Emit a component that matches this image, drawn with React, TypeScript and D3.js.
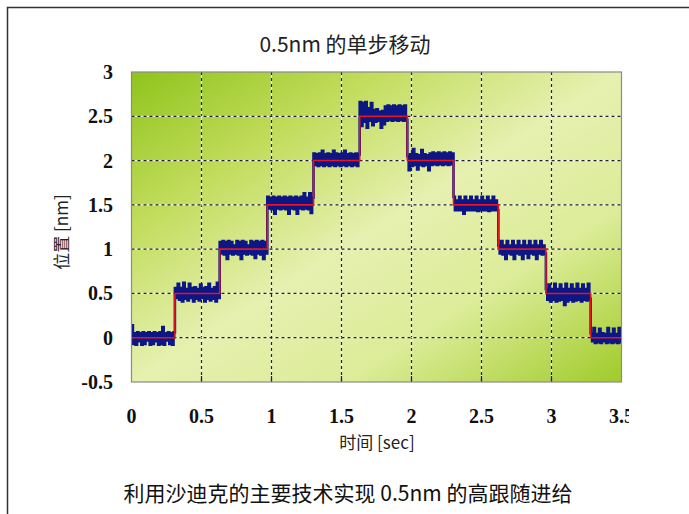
import React from "react";
import * as d3 from "d3";

// ---- data ----
const stepTimes = [0, 0.31, 0.63, 0.97, 1.3, 1.63, 1.97, 2.3, 2.62, 2.96, 3.28, 3.5];
const stepLevels = [0, 0.5, 1.0, 1.5, 2.0, 2.5, 2.0, 1.5, 1.0, 0.5, 0];
// measured noise around each level, in 0.01 nm
const noise0 = [14, -7, 5, -8, 6, -4, 5, -8, 6, -7, 5, -3, 6, -8, 5, -7, 6, -4, 5, -8, 6, -7, 12, -8, 5, -3, 6, -7, 5, -8, 6];
const noise1 = [6, -5, 11, -7, 6, -9, 12, -6, 5, -8, 11, -5, 6, -9, 7, -6, 5, -8, 10, -5, 6, -9, 7, -6, 11, -8, 5, -6, 7, -9, 12, -5];
const noise2 = [8, -5, 9, -6, 8, -11, 9, -5, 8, -6, 4, -5, 9, -6, 8, -11, 9, -5, 8, -6, 4, -5, 9, -6, 8, -10, 9, -5, 8, -6, 9, -11, 8, -5];
const noise3 = [9, -4, 8, -5, 9, -10, 8, -4, 9, -5, 8, -4, 9, -5, 8, -10, 9, -4, 8, -5, 9, -10, 8, -4, 9, -5, 13, -4, 8, -5, 13, -9, 8];
const noise4 = [8, -5, 7, -6, 8, -5, 11, -6, 7, -5, 8, -6, 7, -5, 11, -6, 8, -5, 7, -6, 8, -5, 11, -6, 7, -5, 8, -6, 7, -5, 8, -6, 7];
const noise5 = [16, -11, 15, -6, 16, -13, 9, -5, 15, -10, 7, -6, 8, -5, 5, -13, 6, -9, 11, -5, 12, -4, 11, -5, 12, -4, 11, -5, 12, -4, 11, -5, 12, -4];
const noise6 = [5, -11, 7, -6, 13, -5, 7, -10, 6, -5, 12, -6, 7, -5, 6, -11, 8, -5, 9, -4, 8, -5, 9, -4, 8, -5, 9, -4, 8, -5, 9, -4, 8];
const noise7 = [9, -6, 5, -6, 9, -6, 5, -10, 9, -6, 5, -6, 9, -6, 5, -6, 9, -7, 5, -6, 9, -6, 5, -6, 9, -7, 5, -6, 9, -6, 5, -6];
const noise8 = [4, -5, 9, -6, 4, -11, 9, -5, 4, -6, 9, -11, 4, -5, 9, -6, 4, -11, 9, -5, 4, -10, 9, -5, 4, -6, 9, -11, 4, -5, 9, -6, 4, -5];
const noise9 = [5, -7, 10, -9, 5, -7, 11, -9, 5, -8, 10, -7, 5, -13, 11, -9, 5, -7, 10, -9, 5, -8, 11, -7, 5, -9, 10, -7, 5, -8, 11, -6];
const noise10 = [5, -4, 11, -6, 4, -5, 10, -6, 5, -4, 4, -6, 11, -5, 4, -6, 10, -5, 4, -6, 11, -5];
const stepNoise = [noise0, noise1, noise2, noise3, noise4, noise5, noise6, noise7, noise8, noise9, noise10];

const xTicks = [0, 0.5, 1, 1.5, 2, 2.5, 3, 3.5];
const yTicks = [-0.5, 0, 0.5, 1, 1.5, 2, 2.5, 3];
const xTickLabels = ["0", "0.5", "1", "1.5", "2", "2.5", "3", "3.5"];
const yTickLabels = ["-0.5", "0", "0.5", "1", "1.5", "2", "2.5", "3"];

const title = "0.5nm 的单步移动";
const xTitle = "时间 [sec]";
const yTitle = "位置 [nm]";
const caption = "利用沙迪克的主要技术实现 0.5nm 的高跟随进给";

export default function App() {
  const W = 689, H = 514;
  const L = 131.5, R = 621.5, T = 72, B = 382;
  const x = d3.scaleLinear().domain([0, 3.5]).range([L, R]);
  const y = d3.scaleLinear().domain([-0.5, 3]).range([B, T]);

  const refPts: [number, number][] = stepLevels.map((v, i) => [stepTimes[i], v]);
  refPts.push([stepTimes[stepTimes.length - 1], stepLevels[stepLevels.length - 1]]);

  const measPts: [number, number][] = [];
  stepNoise.forEach((arr, k) => {
    const t0 = stepTimes[k], t1 = stepTimes[k + 1];
    arr.forEach((n, i) => {
      measPts.push([t0 + ((t1 - t0) * i) / arr.length, stepLevels[k] + n / 100]);
    });
  });
  measPts.push([3.5, stepLevels[stepLevels.length - 1] + noise10[noise10.length - 1] / 100]);

  const line = d3
    .line<[number, number]>()
    .x((d) => x(d[0]))
    .y((d) => y(d[1]))
    .curve(d3.curveStepAfter);

  const sans = "'Noto Sans CJK SC', 'Noto Sans', sans-serif";
  const serif = "'Liberation Serif', 'DejaVu Serif', serif";

  return (
    <svg width={W} height={H} style={{ position: "absolute", left: 0, top: 0, background: "#fff" }}>
      <defs>
        <linearGradient id="bg" x1="0" y1="0" x2="1" y2="1">
          <stop offset="0" stopColor="#8fc41c" />
          <stop offset="0.25" stopColor="#c2dc5c" />
          <stop offset="0.5" stopColor="#e6f0b0" />
          <stop offset="0.72" stopColor="#dcec98" />
          <stop offset="1" stopColor="#a0cb2a" />
        </linearGradient>
        <clipPath id="plotClip">
          <rect x={L} y={T} width={R - L} height={B - T} />
        </clipPath>
        <clipPath id="labelClip">
          <rect x={0} y={0} width={629} height={H} />
        </clipPath>
      </defs>
      <rect x={7.5} y={7.5} width={720} height={540} fill="none" stroke="#333" strokeWidth={1.5} />

      <text x={345} y={52} textAnchor="middle" fontFamily={sans} fontSize={21} fill="#222">
        {title}
      </text>

      <rect x={L} y={T} width={R - L} height={B - T} fill="url(#bg)" />

      {/* grid */}
      {xTicks.slice(1, -1).map((t) => (
        <g key={"gx" + t}>
          <line x1={x(t)} x2={x(t)} y1={T} y2={B} stroke="#fff" strokeOpacity={0.8} strokeWidth={1.2} />
          <line x1={x(t)} x2={x(t)} y1={T} y2={B} stroke="#222" strokeWidth={1.2} strokeDasharray="3,3" />
          <line x1={x(t)} x2={x(t)} y1={B} y2={B - 6} stroke="#222" strokeWidth={1.2} />
        </g>
      ))}
      {yTicks.slice(1, -1).map((v) => (
        <g key={"gy" + v}>
          <line x1={L} x2={R} y1={y(v)} y2={y(v)} stroke="#fff" strokeOpacity={0.8} strokeWidth={1.2} />
          <line x1={L} x2={R} y1={y(v)} y2={y(v)} stroke="#222" strokeWidth={1.2} strokeDasharray="3,3" />
        </g>
      ))}

      <g clipPath="url(#plotClip)">
        <path d={line(measPts) || ""} fill="none" stroke="#0c1684" strokeWidth={2.6} />
        <path d={line(refPts) || ""} fill="none" stroke="#e8141c" strokeWidth={1.6} />
      </g>

      <rect x={L} y={T} width={R - L} height={B - T} fill="none" stroke="#8a8a8a" strokeWidth={1.2} />

      {/* y tick labels */}
      {yTicks.map((v, i) => (
        <text
          key={"yl" + v}
          x={113}
          y={y(v)}
          dy="0.35em"
          textAnchor="end"
          fontFamily={serif}
          fontWeight="bold"
          fontSize={20}
          fill="#111"
        >
          {yTickLabels[i]}
        </text>
      ))}

      {/* x tick labels */}
      <g clipPath="url(#labelClip)">
        {xTicks.map((t, i) => (
          <text
            key={"xl" + t}
            x={x(t)}
            y={416}
            dy="0.35em"
            textAnchor="middle"
            fontFamily={serif}
            fontWeight="bold"
            fontSize={20}
            fill="#111"
          >
            {xTickLabels[i]}
          </text>
        ))}
      </g>

      <text x={377} y={443} dy="0.35em" textAnchor="middle" fontFamily={sans} fontSize={17} fill="#222">
        {xTitle}
      </text>
      <text
        transform={`translate(62,232) rotate(-90)`}
        dy="0.35em"
        textAnchor="middle"
        fontFamily={sans}
        fontSize={17}
        fill="#222"
      >
        {yTitle}
      </text>

      <text x={348} y={494} dy="0.35em" textAnchor="middle" fontFamily={sans} fontSize={21} fill="#111">
        {caption}
      </text>
    </svg>
  );
}
